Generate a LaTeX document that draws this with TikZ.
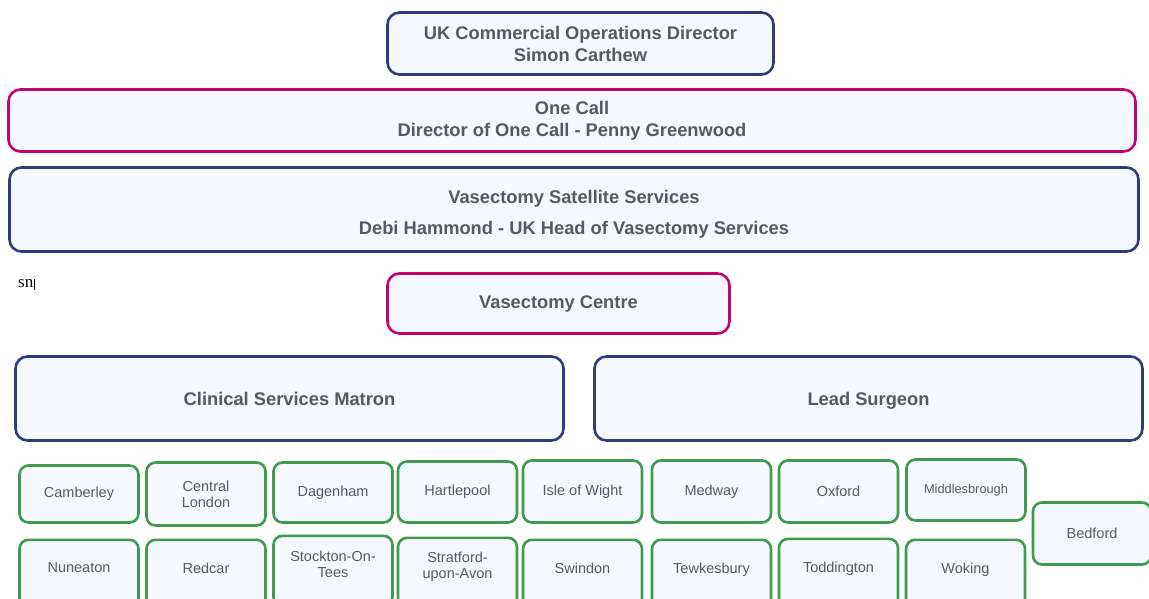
\documentclass[tikz,border=0pt]{standalone}
\usepackage{fontspec}
\setmainfont{Liberation Sans}
\newfontfamily\serifnote{Liberation Serif}
\usepackage{xcolor}
\definecolor{navyline}{HTML}{2F3B7C}
\definecolor{magline}{HTML}{C4046E}
\definecolor{greenline}{HTML}{3F9B4E}
\definecolor{boxfill}{HTML}{F5F8FE}
\definecolor{labelgrey}{HTML}{595959}
\tikzset{orgbox/.style={draw,fill=boxfill,text=labelgrey,align=center,inner sep=0pt,rounded corners=12pt,line width=2.6pt}}
\tikzset{headbox/.style={orgbox,font=\bfseries\fontsize{18.3}{22}\selectfont}}
\tikzset{navybox/.style={headbox,draw=navyline}}
\tikzset{magbox/.style={headbox,draw=magline}}
\tikzset{sitebox/.style={orgbox,draw=greenline,rounded corners=9pt,minimum width=119pt,minimum height=60pt,font=\fontsize{14.5}{16}\selectfont}}
\tikzset{lowsite/.style={sitebox,anchor=north,minimum height=70pt,text depth=14pt}}

\begin{document}
\begin{tikzpicture}[x=1pt,y=-1pt]
        \useasboundingbox (0,0) rectangle (1149,598);
        \clip (0,0) rectangle (1149,598);
        % management
        \coordinate (D) at (580.5,43.5);
        \coordinate (C) at (572,120.5);
        \coordinate (S) at (574,209.5);
        \coordinate (V) at (558.5,303.5);
        \node[navybox,minimum width=386pt,minimum height=62pt] (ukdir) at (D) {UK Commercial Operations Director\\Simon Carthew};
        \node[magbox,minimum width=1127pt,minimum height=62pt] (onecall) at (C) {One Call\\Director of One Call - Penny Greenwood};
        \node[navybox,minimum width=1129pt,minimum height=84pt,font=\bfseries\fontsize{18.3}{31}\selectfont] (satellite) at (S) {\rule{0pt}{23pt}Vasectomy Satellite Services\\Debi Hammond - UK Head of Vasectomy Services};
        \node[anchor=base west,font=\serifnote\fontsize{17}{20}\selectfont,inner sep=0pt] (sn) at (18,287) {sn};
        \draw[line width=0.9pt] ([xshift=1pt]sn.north east) -- ([xshift=1pt,yshift=-3pt]sn.south east);
        \node[magbox,minimum width=342pt,minimum height=60pt,text depth=3pt] (centre) at (V) {Vasectomy Centre};
        \node[navybox,minimum width=548pt,minimum height=84pt] (matron) at (289.5,398.5) {Clinical Services Matron};
        \node[navybox,minimum width=548pt,minimum height=84pt,text depth=0pt] (surgeon) at (868.5,398.5) {Lead Surgeon};
        % sites, top row
        \node[sitebox,minimum height=57pt] (camberley) at (79,494) {Camberley};
        \node[sitebox,minimum height=63pt] (central) at (206,494) {Central\\London};
        \node[sitebox] (dagenham) at (333,492.5) {Dagenham};
        \node[sitebox,minimum height=61pt] (hartlepool) at (457.5,492) {Hartlepool};
        \node[sitebox,minimum height=62pt] (wight) at (582.5,491.5) {Isle of Wight};
        \node[sitebox,minimum height=62pt] (medway) at (711.5,491.5) {Medway};
        \node[sitebox,minimum height=62pt] (oxford) at (838.5,491.5) {Oxford};
        \node[sitebox,minimum height=61pt,font=\fontsize{12.8}{15}\selectfont] (middlesbrough) at (966,490) {Middlesbrough};
        \node[sitebox,minimum height=62pt,minimum width=118pt] (bedford) at (1092,533.5) {Bedford};
        % sites, bottom row
        \node[lowsite] (nuneaton) at (79,538.5) {Nuneaton};
        \node[lowsite] (redcar) at (206,538.5) {Redcar};
        \node[lowsite,text depth=13pt] (stockton) at (333,534.5) {Stockton-On-\\Tees};
        \node[lowsite,text depth=16pt] (stratford) at (457.5,536.5) {Stratford-\\upon-Avon};
        \node[lowsite] (swindon) at (582.5,538.5) {Swindon};
        \node[lowsite] (tewkesbury) at (711.5,538.5) {Tewkesbury};
        \node[lowsite] (toddington) at (838.5,537.5) {Toddington};
        \node[lowsite] (woking) at (965.5,538.5) {Woking};
    \end{tikzpicture}
\end{document}
